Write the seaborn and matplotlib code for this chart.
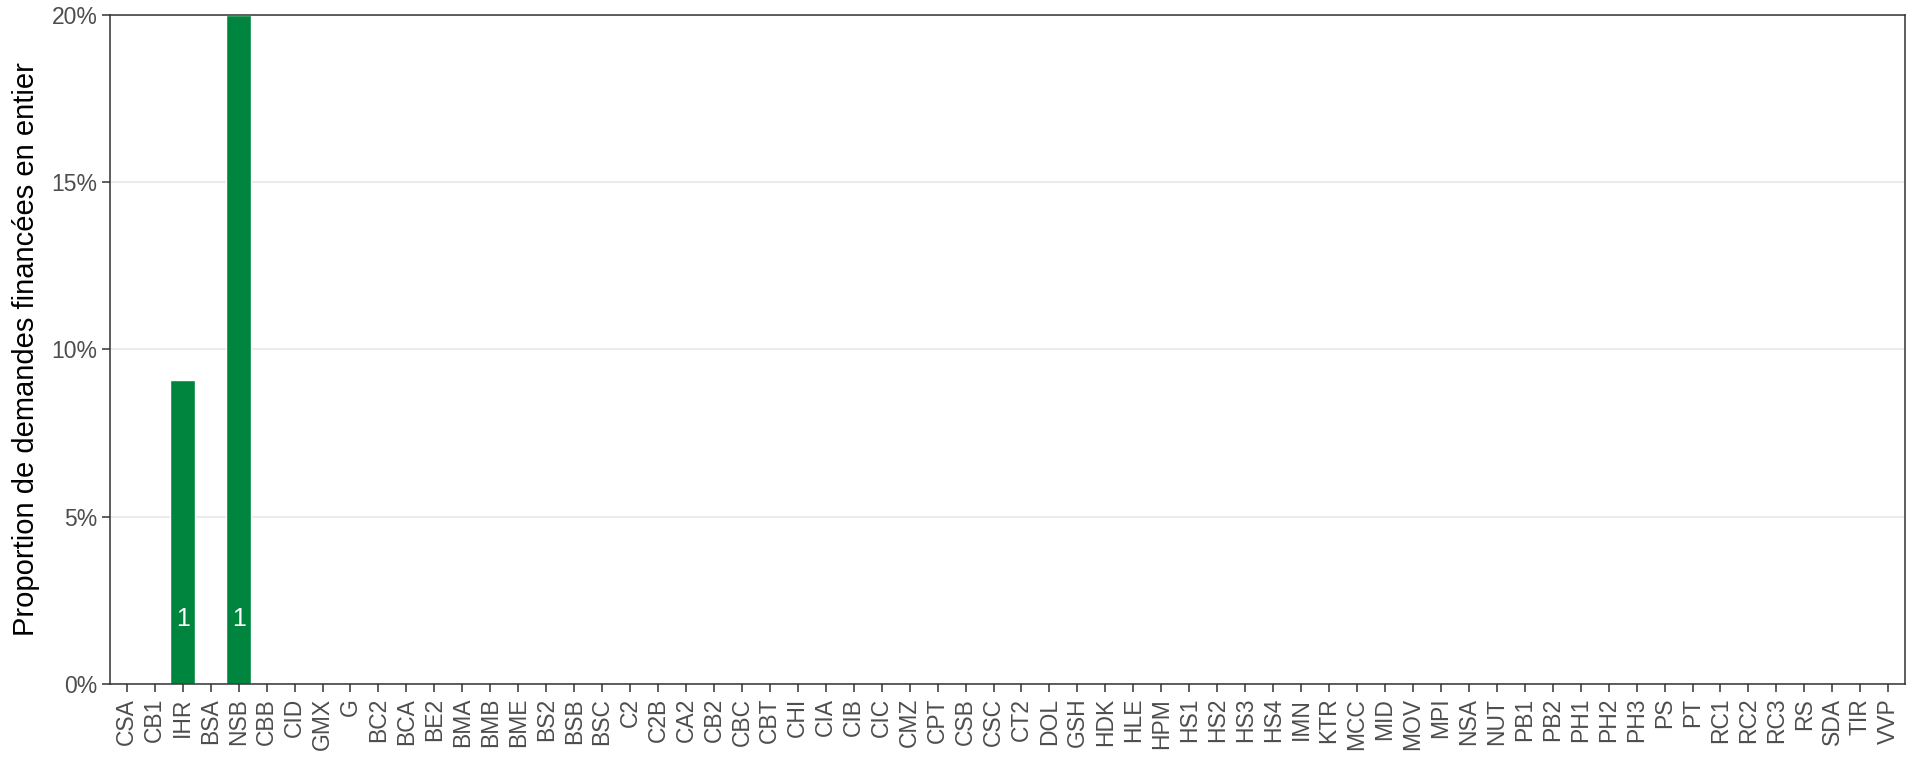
import numpy as np
import pandas as pd
import seaborn as sns
import matplotlib.pyplot as plt
from matplotlib.ticker import PercentFormatter

# Data
programmes = ['CSA', 'CB1', 'IHR', 'BSA', 'NSB', 'CBB', 'CID', 'GMX', 'G', 'BC2',
              'BCA', 'BE2', 'BMA', 'BMB', 'BME', 'BS2', 'BSB', 'BSC', 'C2', 'C2B',
              'CA2', 'CB2', 'CBC', 'CBT', 'CHI', 'CIA', 'CIB', 'CIC', 'CMZ', 'CPT',
              'CSB', 'CSC', 'CT2', 'DOL', 'GSH', 'HDK', 'HLE', 'HPM', 'HS1', 'HS2',
              'HS3', 'HS4', 'IMN', 'KTR', 'MCC', 'MID', 'MOV', 'MPI', 'NSA', 'NUT',
              'PB1', 'PB2', 'PH1', 'PH2', 'PH3', 'PS', 'PT', 'RC1', 'RC2', 'RC3',
              'RS', 'SDA', 'TIR', 'VVP']
proportion = {'IHR': 9.09, 'NSB': 20.0}
funded_count = {'IHR': 1, 'NSB': 1}

df = pd.DataFrame({'Programme': programmes})
df['Proportion'] = df['Programme'].map(proportion).fillna(0)
df['N'] = df['Programme'].map(funded_count)

sns.set_theme(style='white')
plt.rcParams['font.family'] = ['Liberation Sans', 'DejaVu Sans']

fig = plt.figure(figsize=(19.2, 7.68), dpi=100)
ax = fig.add_axes([0.0573, 0.1094, 0.9349, 0.8711])

ax.grid(axis='y', color='#EBEBEB', linewidth=1.5)
ax.set_axisbelow(True)

sns.barplot(data=df, x='Programme', y='Proportion', order=programmes,
            color='#00853F', width=0.9, saturation=1, ax=ax, zorder=2)

# count labels inside bars
for i, p in enumerate(programmes):
    n = df.loc[i, 'N']
    if pd.notna(n):
        ax.text(i, 1.95, str(int(n)), color='white', ha='center', va='center',
                fontsize=18, zorder=3)

ax.set_xlim(-0.6, len(programmes) - 0.4)
ax.set_ylim(0, 20)
ax.set_yticks([0, 5, 10, 15, 20])
ax.yaxis.set_major_formatter(PercentFormatter(decimals=0))
ax.set_xlabel('')
ax.set_ylabel('Proportion de demandes financées en entier', fontsize=21,
              color='black', labelpad=8)

ax.tick_params(axis='x', rotation=90, labelsize=16.5, labelcolor='#4D4D4D',
               length=6, width=1.1, color='#333333', bottom=True, pad=4)
ax.tick_params(axis='y', labelsize=16.5, labelcolor='#4D4D4D',
               length=6, width=1.1, color='#333333', left=True, pad=3)

for s in ax.spines.values():
    s.set_color('#333333')
    s.set_linewidth(1.1)

fig.savefig('out.png', dpi=100)
